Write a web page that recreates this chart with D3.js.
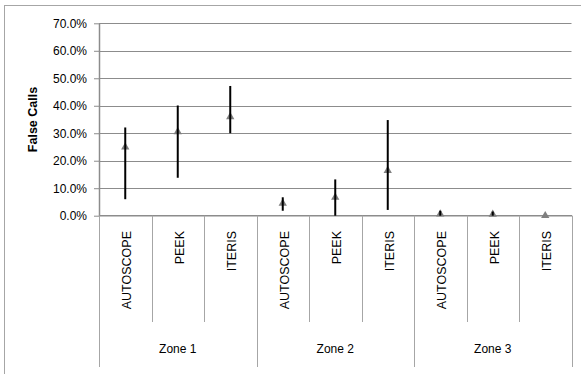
<!DOCTYPE html>
<html><head><meta charset="utf-8">
<script src="https://cdn.jsdelivr.net/npm/d3@7"></script>
<style>body{margin:0;background:#fff}svg{display:block;font-family:"Liberation Sans",Arial,sans-serif}</style>
</head><body><svg id="c" width="581" height="374"></svg>
<script>
const zones = ["Zone 1", "Zone 2", "Zone 3"];
const vendors = ["AUTOSCOPE", "PEEK", "ITERIS"];
const means = [25.0, 30.5, 36.0, 4.5, 6.7, 16.4, 0.6, 0.5, 0.0];
const lows  = [6.0, 13.8, 30.0, 1.8, 0.0, 2.1, 0.0, 0.0, 0.0];
const highs = [32.1, 40.1, 47.2, 6.7, 13.2, 34.8, 1.8, 1.5, 0.0];
const yTicks = [0, 10, 20, 30, 40, 50, 60, 70];

const rows = [];
zones.forEach((z, zi) => vendors.forEach((v, vi) => {
  const i = zi * vendors.length + vi;
  rows.push({key: z + "|" + v, zone: z, vendor: v, mean: means[i], low: lows[i], high: highs[i]});
}));

const svg = d3.select("#c");
const L = 99, R = 571.5, T = 23.3, B = 215.7;

// outer frame
svg.append("rect").attr("x", 4.5).attr("y", 5.5).attr("width", 600).attr("height", 400)
  .attr("fill", "none").attr("stroke", "#a6a6a6").attr("stroke-width", 1);

const x = d3.scaleBand().domain(rows.map(d => d.key)).range([L, R]).padding(0);
const y = d3.scaleLinear().domain([0, 70]).range([B, T]);

// gridlines
svg.append("g").selectAll("line").data(yTicks.filter(t => t > 0)).join("line")
  .attr("x1", L).attr("x2", R).attr("y1", d => Math.round(y(d)) + 0.5).attr("y2", d => Math.round(y(d)) + 0.5)
  .attr("stroke", "#8c8c8c").attr("stroke-width", 1);

// y axis
const yAxis = d3.axisLeft(y).tickValues(yTicks).tickSizeInner(5).tickSizeOuter(0).tickPadding(7)
  .tickFormat(d => d.toFixed(1) + "%");
const gy = svg.append("g").attr("transform", `translate(${L},0)`).call(yAxis);
gy.select(".domain").attr("stroke", "#8c8c8c").attr("stroke-width", 1.5);
gy.selectAll(".tick line").attr("stroke", "#8c8c8c");
gy.selectAll(".tick text").style("font-size", "12px").attr("fill", "#000")
  .style("font-family", '"Liberation Sans",Arial,sans-serif');

// y title
svg.append("text").attr("transform", `translate(36.5,${(T + B) / 2}) rotate(-90)`)
  .attr("text-anchor", "middle").attr("font-weight", "bold").attr("font-size", 12.5).text("False Calls");

// x axis line
svg.append("line").attr("x1", L).attr("x2", R + 0.5).attr("y1", B).attr("y2", B)
  .attr("stroke", "#8c8c8c").attr("stroke-width", 1.5);

// category separators
const catBounds = rows.map(d => x(d.key)).concat([R]);
svg.append("g").selectAll("line").data(catBounds).join("line")
  .attr("x1", d => Math.round(d) + 0.5).attr("x2", d => Math.round(d) + 0.5)
  .attr("y1", B).attr("y2", (d, i) => (i % vendors.length === 0) ? 367 : 322)
  .attr("stroke", "#a6a6a6").attr("stroke-width", 1);

// category labels
svg.append("g").selectAll("text").data(rows).join("text")
  .attr("transform", d => `translate(${x(d.key) + x.bandwidth() / 2 + 1.5},231) rotate(-90)`)
  .attr("text-anchor", "end").attr("dy", "0.35em").attr("font-size", 12.5).attr("fill", "#000")
  .text(d => d.vendor);

// zone labels
svg.append("g").selectAll("text").data(zones).join("text")
  .attr("x", (z, zi) => {
    const first = x(z + "|" + vendors[0]);
    const last = x(z + "|" + vendors[vendors.length - 1]) + x.bandwidth();
    return (first + last) / 2;
  })
  .attr("y", 349).attr("dy", "0.35em").attr("text-anchor", "middle").attr("font-size", 12).attr("fill", "#000")
  .text(d => d);

// markers
svg.append("g").selectAll("path").data(rows).join("path")
  .attr("d", d3.symbol().type(d3.symbolTriangle).size(30))
  .attr("transform", d => `translate(${x(d.key) + x.bandwidth() / 2},${y(d.mean)})`)
  .attr("fill", "#7f7f7f");

// error bars
svg.append("g").selectAll("line").data(rows.filter(d => d.high > d.low)).join("line")
  .attr("x1", d => x(d.key) + x.bandwidth() / 2).attr("x2", d => x(d.key) + x.bandwidth() / 2)
  .attr("y1", d => y(d.high)).attr("y2", d => y(d.low))
  .attr("stroke", "#000").attr("stroke-width", 2);
</script></body></html>
